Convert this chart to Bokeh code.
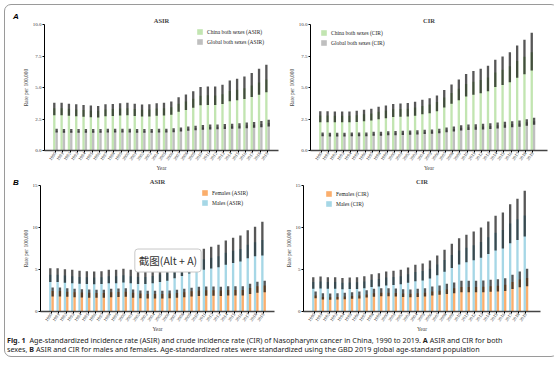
from bokeh.plotting import figure
from bokeh.models import (Range1d, FixedTicker, Legend, LegendItem, Label, Div,
                          ColumnDataSource, NumeralTickFormatter)
from bokeh.layouts import column, row
from bokeh.transform import dodge
from bokeh.embed import file_html
from bokeh.resources import INLINE

years = list(range(1990, 2020))

# Panel A - ASIR (both sexes)
up_cn_asir = [3.78,3.78,3.72,3.67,3.62,3.57,3.54,3.67,3.70,3.75,3.78,3.72,3.65,3.67,3.75,3.78,3.88,4.23,4.44,4.71,5.03,5.08,5.08,5.21,5.56,5.69,5.87,6.16,6.48,6.80]
val_cn_asir = [3.36,3.36,3.31,3.26,3.22,3.17,3.15,3.26,3.29,3.33,3.36,3.30,3.24,3.26,3.33,3.35,3.43,3.72,3.88,4.10,4.35,4.38,4.37,4.46,4.73,4.82,4.95,5.16,5.40,5.63]
lo_cn_asir = [2.80,2.80,2.75,2.72,2.68,2.64,2.62,2.71,2.73,2.77,2.79,2.74,2.69,2.70,2.76,2.78,2.84,3.08,3.21,3.39,3.60,3.62,3.61,3.69,3.91,3.98,4.08,4.24,4.43,4.63]
up_gl_asir = [1.72,1.70,1.70,1.70,1.70,1.70,1.70,1.72,1.72,1.73,1.73,1.70,1.70,1.70,1.72,1.73,1.76,1.82,1.90,1.97,2.02,2.06,2.07,2.10,2.13,2.17,2.22,2.27,2.35,2.45]
val_gl_asir = [1.57,1.55,1.55,1.55,1.55,1.55,1.55,1.57,1.57,1.58,1.58,1.55,1.55,1.55,1.57,1.58,1.60,1.66,1.73,1.79,1.83,1.87,1.88,1.90,1.93,1.96,2.00,2.04,2.10,2.18]
lo_gl_asir = [1.42,1.41,1.41,1.41,1.41,1.41,1.41,1.42,1.42,1.43,1.43,1.41,1.41,1.41,1.42,1.43,1.45,1.50,1.56,1.61,1.64,1.67,1.68,1.70,1.72,1.74,1.77,1.80,1.85,1.90]

# Panel A - CIR (both sexes)
up_cn_cir = [3.12,3.12,3.10,3.10,3.10,3.15,3.23,3.31,3.47,3.57,3.70,3.73,3.76,3.86,4.02,4.15,4.37,4.81,5.24,5.63,6.08,6.30,6.48,6.72,7.20,7.46,7.80,8.33,8.78,9.34]
val_cn_cir = [2.78,2.78,2.76,2.76,2.76,2.80,2.87,2.94,3.08,3.17,3.28,3.30,3.32,3.41,3.54,3.65,3.84,4.21,4.57,4.90,5.28,5.46,5.60,5.80,6.20,6.41,6.68,7.11,7.45,7.80]
lo_cn_cir = [2.25,2.25,2.24,2.24,2.24,2.27,2.32,2.38,2.49,2.56,2.65,2.67,2.69,2.76,2.87,2.96,3.11,3.42,3.71,3.98,4.28,4.43,4.55,4.71,5.03,5.20,5.42,5.77,6.06,6.35]
up_gl_cir = [1.43,1.40,1.40,1.40,1.43,1.43,1.43,1.48,1.48,1.53,1.55,1.56,1.58,1.61,1.64,1.67,1.72,1.83,1.90,2.01,2.06,2.09,2.12,2.17,2.22,2.28,2.33,2.38,2.49,2.59]
val_gl_cir = [1.29,1.26,1.26,1.26,1.29,1.29,1.29,1.33,1.33,1.38,1.40,1.40,1.42,1.45,1.48,1.50,1.55,1.65,1.71,1.81,1.85,1.88,1.91,1.95,2.00,2.05,2.10,2.14,2.24,2.33]
lo_gl_cir = [1.13,1.11,1.11,1.11,1.13,1.13,1.13,1.17,1.17,1.21,1.22,1.23,1.25,1.27,1.30,1.32,1.36,1.45,1.50,1.59,1.63,1.65,1.67,1.71,1.75,1.80,1.84,1.88,1.97,2.05]

# Panel B - ASIR by sex
up_m_asir = [5.16,5.16,5.04,4.96,4.84,4.80,4.76,4.80,4.96,4.96,5.08,4.96,4.85,4.85,5.00,5.20,5.45,5.90,6.30,6.75,7.26,7.46,7.70,7.94,8.45,8.77,9.05,9.68,10.08,10.67]
val_m_asir = [4.38,4.38,4.28,4.21,4.11,4.08,4.04,4.08,4.21,4.21,4.31,4.21,4.12,4.11,4.24,4.40,4.60,4.97,5.29,5.65,6.06,6.21,6.40,6.58,6.98,7.23,7.44,7.94,8.24,8.50]
lo_m_asir = [3.51,3.51,3.43,3.37,3.29,3.26,3.23,3.26,3.36,3.36,3.44,3.35,3.27,3.27,3.37,3.50,3.66,3.96,4.22,4.51,4.84,4.96,5.11,5.26,5.58,5.78,5.94,6.33,6.57,6.67]
up_f_asir = [2.86,2.86,2.78,2.70,2.66,2.62,2.58,2.58,2.70,2.74,2.78,2.62,2.50,2.46,2.46,2.46,2.50,2.58,2.70,2.82,2.94,2.98,2.98,2.94,3.02,3.02,3.02,3.29,3.53,3.65]
val_f_asir = [2.43,2.43,2.36,2.30,2.26,2.23,2.19,2.19,2.30,2.33,2.36,2.23,2.13,2.09,2.09,2.09,2.13,2.19,2.30,2.40,2.50,2.53,2.53,2.50,2.57,2.57,2.57,2.80,3.00,3.10]
lo_f_asir = [1.80,1.80,1.75,1.70,1.68,1.65,1.63,1.63,1.70,1.73,1.75,1.65,1.58,1.55,1.55,1.55,1.58,1.63,1.70,1.78,1.85,1.88,1.88,1.85,1.90,1.90,1.90,2.07,2.22,2.30]

# Panel B - CIR by sex
up_m_cir = [4.09,4.17,4.09,4.09,4.00,4.05,4.09,4.20,4.44,4.56,4.76,4.84,4.96,5.24,5.56,5.71,6.07,6.67,7.34,8.06,8.73,9.13,9.52,10.00,10.71,11.39,11.79,12.78,13.41,14.37]
val_m_cir = [3.50,3.57,3.50,3.50,3.42,3.46,3.49,3.58,3.78,3.88,4.04,4.10,4.20,4.43,4.69,4.81,5.10,5.59,6.14,6.72,7.26,7.58,7.89,8.27,8.84,9.38,9.69,10.48,10.97,11.43]
lo_m_cir = [2.70,2.75,2.70,2.70,2.64,2.67,2.69,2.76,2.91,2.99,3.11,3.16,3.23,3.41,3.61,3.70,3.93,4.31,4.74,5.19,5.61,5.86,6.10,6.40,6.84,7.26,7.50,8.12,8.50,8.93]
up_f_cir = [2.38,2.18,2.14,2.18,2.22,2.30,2.38,2.54,2.70,2.78,2.78,2.74,2.66,2.62,2.70,2.78,2.98,3.10,3.29,3.45,3.65,3.65,3.65,3.69,3.77,3.85,3.97,4.37,4.76,5.08]
val_f_cir = [1.90,1.74,1.71,1.74,1.78,1.84,1.90,2.03,2.16,2.22,2.22,2.19,2.13,2.10,2.16,2.22,2.38,2.48,2.63,2.76,2.92,2.92,2.92,2.95,3.02,3.08,3.18,3.50,3.81,4.00]
lo_f_cir = [1.57,1.44,1.41,1.44,1.46,1.51,1.56,1.66,1.76,1.81,1.81,1.78,1.72,1.69,1.74,1.79,1.91,1.98,2.09,2.18,2.30,2.29,2.28,2.30,2.34,2.38,2.44,2.68,2.89,3.00]

GREEN = "#c2e5b1"
GRAY = "#bfbfbf"
ORANGE = "#fbae6c"
BLUE = "#a6d7e6"
SERIF = "Liberation Serif"


def panel(title, yend, yticks, yfmt, series, legend_order, legend_xy,
          x_end, fw, bl, br, bt):
    p = figure(frame_width=fw, frame_height=126, output_backend="svg", toolbar_location=None,
               x_range=Range1d(1988.5, x_end), y_range=Range1d(0, yend),
               min_border_left=bl, min_border_right=br, min_border_top=bt,
               min_border_bottom=16, title=title)
    p.outline_line_color = None
    p.grid.visible = False
    p.title.align = "center"
    p.title.text_font = SERIF
    p.title.text_font_size = "6.5px"
    p.title.text_font_style = "bold"
    p.title.standoff = 2
    rends = {}
    for off, color, name, up, val, lo in series:
        src = ColumnDataSource(dict(year=years, up=up, val=val, lo=lo))
        r = p.vbar(x=dodge("year", off), top="val", bottom=0, width=0.32, source=src,
                   fill_color=color, line_color=None)
        p.vbar(x=dodge("year", off), top="up", bottom="lo", width=0.32, source=src,
               fill_color="black", fill_alpha=0.66, line_color=None)
        rends[name] = r
    legend = Legend(items=[LegendItem(label=n, renderers=[rends[n]]) for n in legend_order],
                    location=legend_xy, glyph_width=7, glyph_height=7, label_height=7,
                    label_width=10, spacing=3, padding=0, margin=0, label_standoff=4,
                    label_text_font=SERIF, label_text_font_size="5.5px",
                    label_text_color="#222", border_line_color=None,
                    background_fill_alpha=0)
    p.add_layout(legend, "center")
    # y axis
    p.yaxis.ticker = FixedTicker(ticks=yticks)
    if yfmt:
        p.yaxis.formatter = NumeralTickFormatter(format=yfmt)
    p.yaxis.axis_label = "Rate per 100,000"
    p.yaxis.axis_label_text_font = SERIF
    p.yaxis.axis_label_text_font_size = "5.5px"
    p.yaxis.axis_label_text_font_style = "normal"
    p.yaxis.axis_label_standoff = 1
    p.yaxis.major_label_text_font = SERIF
    p.yaxis.major_label_text_font_size = "5px"
    p.yaxis.major_label_text_color = "#333"
    p.yaxis.major_label_standoff = 1
    p.yaxis.major_tick_in = 0
    p.yaxis.major_tick_out = 2
    p.yaxis.minor_tick_out = 0
    p.yaxis.minor_tick_in = 0
    p.yaxis.axis_line_color = "black"
    p.yaxis.axis_line_width = 1
    # x axis
    p.xaxis.ticker = FixedTicker(ticks=years)
    p.xaxis.axis_label = "Year"
    p.xaxis.axis_label_text_font = SERIF
    p.xaxis.axis_label_text_font_size = "5.5px"
    p.xaxis.axis_label_text_font_style = "normal"
    p.xaxis.axis_label_standoff = 0
    p.xaxis.major_label_text_font = SERIF
    p.xaxis.major_label_text_font_size = "4.6px"
    p.xaxis.major_label_text_color = "#333"
    p.xaxis.major_label_orientation = 0.95
    p.xaxis.major_label_standoff = 0
    p.xaxis.major_tick_in = 0
    p.xaxis.major_tick_out = 2
    p.xaxis.minor_tick_out = 0
    p.xaxis.minor_tick_in = 0
    p.xaxis.axis_line_color = "#444"
    p.xaxis.axis_line_width = 1.5
    return p


def letter_div(letter, top):
    return Div(text=('<div style="margin:%dpx 0 0 8px;font-family:\'Liberation Sans\';'
                     'font-size:8px;font-weight:bold;font-style:italic;color:#000">%s</div>'
                     % (top, letter)),
               width=14, height=20, margin=0)


pA1 = panel("ASIR", 10, [0, 2.5, 5, 7.5, 10], "0.0",
            [(-0.16, GREEN, "China both sexes (ASIR)", up_cn_asir, val_cn_asir, lo_cn_asir),
             (0.16, GRAY, "Global both sexes (ASIR)", up_gl_asir, val_gl_asir, lo_gl_asir)],
            ["China both sexes (ASIR)", "Global both sexes (ASIR)"], (152, 105),
            2020.5, 234, 20, 7, 19)
pA2 = panel("CIR", 10, [0, 2.5, 5, 7.5, 10], "0.0",
            [(-0.16, GREEN, "China both sexes (CIR)", up_cn_cir, val_cn_cir, lo_cn_cir),
             (0.16, GRAY, "Global both sexes (CIR)", up_gl_cir, val_gl_cir, lo_gl_cir)],
            ["China both sexes (CIR)", "Global both sexes (CIR)"], (10, 104),
            2021.0, 237, 22, 10, 19)
pB1 = panel("ASIR", 15, [0, 5, 10, 15], None,
            [(-0.16, BLUE, "Males (ASIR)", up_m_asir, val_m_asir, lo_m_asir),
             (0.16, ORANGE, "Females (ASIR)", up_f_asir, val_f_asir, lo_f_asir)],
            ["Females (ASIR)", "Males (ASIR)"], (161, 105),
            2020.5, 234, 20, 7, 12)
pB2 = panel("CIR", 15, [0, 5, 10, 15], None,
            [(-0.16, BLUE, "Males (CIR)", up_m_cir, val_m_cir, lo_m_cir),
             (0.16, ORANGE, "Females (CIR)", up_f_cir, val_f_cir, lo_f_cir)],
            ["Females (CIR)", "Males (CIR)"], (22, 104),
            2021.0, 237, 22, 10, 12)

# screenshot-tool tooltip visible over the reference image
pB1.add_layout(Label(x=2001.4, y=4.7, text="截图(Alt + A)", text_font="Noto Sans CJK SC",
                     text_font_size="10.5px", text_color="#333333",
                     background_fill_color="white", border_line_color="#c8c8c8",
                     border_line_width=1, padding=4, border_radius=3))

caption = Div(
    text=('<b>Fig. 1</b>&nbsp; Age-standardized incidence rate (ASIR) and crude incidence rate (CIR) '
          'of Nasopharynx cancer in China, 1990 to 2019. <b>A</b> ASIR and CIR for both<br>'
          'sexes, <b>B</b> ASIR and CIR for males and females. Age-standardized rates were '
          'standardized using the GBD 2019 global age-standard population'),
    width=540, height=22, margin=0,
    styles={"font-family": "Noto Sans", "font-size": "7.2px", "line-height": "8.5px",
            "color": "#222", "padding-left": "2px", "padding-top": "2px",
            "white-space": "nowrap"})

layout = column(row(letter_div("A", 6), pA1, pA2),
                row(letter_div("B", 0), pB1, pB2),
                caption,
                styles={"border": "1px solid #9a9a9a", "border-radius": "7px",
                        "margin": "4px 0 0 4px"})

open("out.html", "w").write(file_html(layout, INLINE))
